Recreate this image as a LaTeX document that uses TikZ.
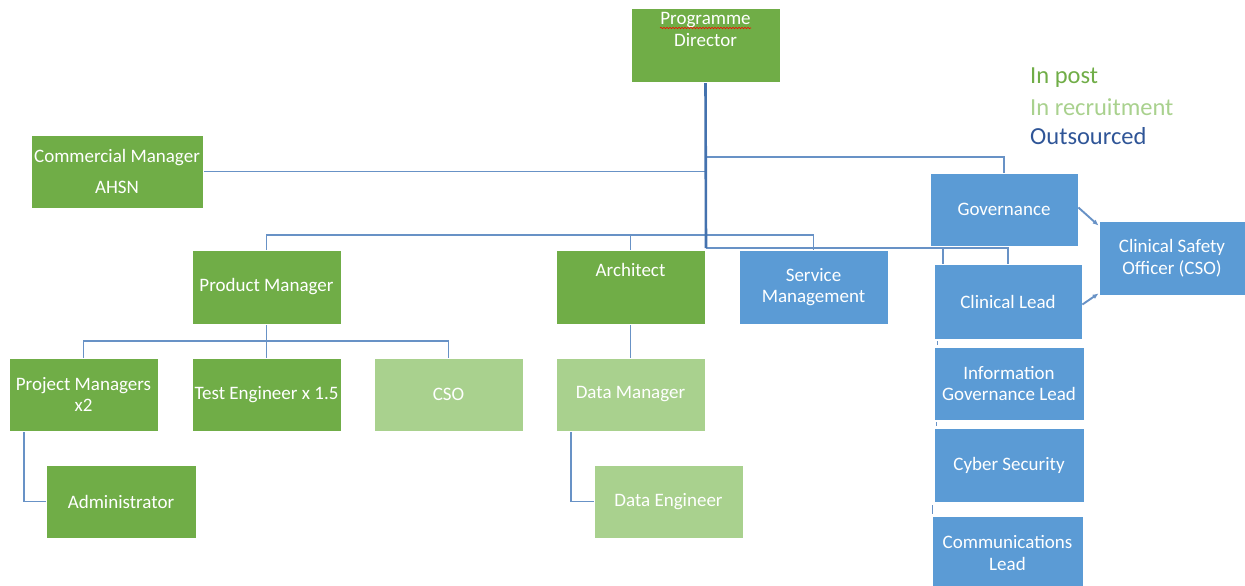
\documentclass[tikz,border=0pt]{standalone}
\usepackage{fontspec}
\setmainfont{Carlito}
\usetikzlibrary{arrows.meta,calc,decorations.pathmorphing}
\pgfdeclarelayer{bg}
\pgfsetlayers{bg,main}
\definecolor{postgreen}{RGB}{112,173,71}
\definecolor{recgreen}{RGB}{169,209,142}
\definecolor{outblue}{RGB}{91,155,213}
\definecolor{legblue}{RGB}{47,85,151}
\definecolor{connblue}{RGB}{104,146,198}
\definecolor{trunkblue}{RGB}{68,114,174}
\begin{document}
\begin{tikzpicture}[x=1pt,y=-1pt,
  box/.style={draw=white, line width=0.8pt, minimum width=149pt, minimum height=74pt,
    inner sep=0pt, text=white, align=center, font=\fontsize{19}{21.5}\selectfont},
  inpost/.style={box, fill=postgreen},
  recruit/.style={box, fill=recgreen},
  outsrc/.style={box, fill=outblue},
  lbl/.style={text=white, align=center, inner sep=0pt, font=\fontsize{19}{22}\selectfont},
  conn/.style={draw=connblue, line width=1.9pt},
  trunk/.style={draw=trunkblue, line width=2.6pt},
  thin/.style={draw=connblue, line width=1.2pt},
  legend/.style={anchor=west, inner sep=0pt, font=\fontsize{24.5}{28}\selectfont}]
\useasboundingbox (0,0) rectangle (1245,586);

% top of the organisation
\node[inpost] (pd) at (705.5,45) {};
\node[lbl] (pd-t) at (705.5,29) {Programme\\Director};
\draw[red, line width=0.6pt, decorate,
  decoration={snake, amplitude=0.7pt, segment length=3pt}] (660,28) -- (751,28);

\node[inpost, minimum width=172pt, minimum height=73pt] (cm) at (117,171.5)
  {Commercial Manager\\[9pt]AHSN};

% second tier
\node[inpost] (pm) at (266.5,287) {Product Manager};
\node[inpost] (arch) at (630.5,287) {};
\node[lbl] (arch-t) at (630.5,270) {Architect};
\node[outsrc] (sm) at (813.5,287) {Service\\Management};

% governance group
\node[outsrc, minimum width=148pt, minimum height=73pt] (gov) at (1004,209.5) {Governance};
\node[outsrc, minimum width=146pt] (cso2) at (1172,258) {Clinical Safety\\Officer (CSO)};
\node[outsrc, minimum width=148pt, minimum height=75pt] (cl) at (1008,301.5) {Clinical Lead};
\node[outsrc, minimum width=150pt, minimum height=73pt] (ig) at (1009,383.5) {Information\\Governance Lead};
\node[outsrc, minimum width=150pt] (cyb) at (1009,465) {Cyber Security};
\node[outsrc, minimum width=151pt] (comm) at (1007.5,553) {Communications\\Lead};

% third tier
\node[inpost, minimum height=73pt] (pjm) at (83.5,394.5) {Project Managers\\x2};
\node[inpost, minimum height=73pt] (te) at (266.5,394.5) {Test Engineer x 1.5};
\node[recruit, minimum height=73pt] (cso) at (448.5,394.5) {CSO};
\node[recruit, minimum height=73pt] (dm) at (630.5,394.5) {Data Manager};

% fourth tier
\node[inpost, minimum width=150pt, minimum height=73pt] (adm) at (121,501.5) {Administrator};
\node[recruit, minimum height=73pt] (de) at (668.5,501.5) {Data Engineer};

% legend
\node[legend, text=postgreen] (lg-post) at (1030,78) {In post};
\node[legend, text=recgreen] (lg-rec) at (1030,107) {In recruitment};
\node[legend, text=legblue] (lg-out) at (1030,136) {Outsourced};

% reporting lines
\coordinate (govbus) at (706,157);
\coordinate (pmbus) at (706,235);
\coordinate (clbus) at (706,248);
\coordinate (pmkids) at ($(pm.south)+(0,17)$);
\begin{pgfonlayer}{bg}
  \draw[conn] (cm.east) -- (cm.east -| pd.south);
  \draw[conn] (govbus) -| (gov.north);
  \draw[conn] (pmbus) -| (pm.north);
  \draw[conn] (pmbus) -| (arch.north);
  \draw[conn] (pmbus) -| (sm.north);
  \draw[conn] (clbus) -| ([xshift=9pt]cl.north west);
  \draw[conn] (clbus) -| (cl.north);
  \draw[trunk] (pd.south) -- (clbus);

  \draw[conn] (pm.south) -- (pmkids);
  \draw[conn] (pmkids) -| (pjm.north);
  \draw[conn] (pmkids) -| (te.north);
  \draw[conn] (pmkids) -| (cso.north);
  \draw[conn] (arch.south) -- (dm.north);
  \draw[conn] ([xshift=15pt]pjm.south west) |- (adm.west);
  \draw[conn] ([xshift=15pt]dm.south west) |- (de.west);

  \draw[thin] ([xshift=4pt,yshift=-2pt]cl.south west) -- ([xshift=4pt,yshift=2pt]ig.north west);
  \draw[thin] ([xshift=3pt,yshift=-2pt]ig.south west) -- ([xshift=3pt,yshift=2pt]cyb.north west);
  \draw[thin] ([xshift=-1pt,yshift=-3pt]cyb.south west) -- ([xshift=1pt,yshift=2pt]comm.north west);
\end{pgfonlayer}
\draw[conn, -{Latex[length=6pt,width=5pt]}] ([yshift=2pt]gov.east) -- ([yshift=-5pt]cso2.north west);
\draw[conn, -{Latex[length=6pt,width=5pt]}] ([yshift=-3pt]cl.east) -- ([yshift=2pt]cso2.south west);
\end{tikzpicture}
\end{document}
